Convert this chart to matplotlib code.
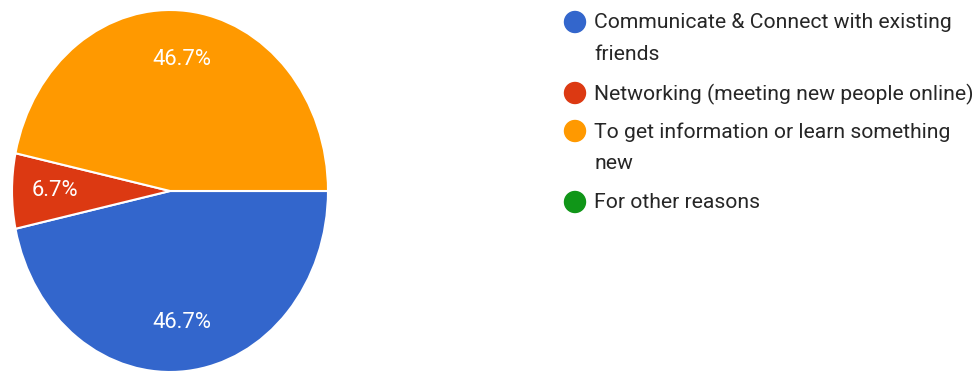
"""Pie chart of reasons for using social media, with a side legend."""

import matplotlib.pyplot as plt
import matplotlib.patches as mpatches

labels = [
    "Communicate & Connect with existing\nfriends",
    "Networking (meeting new people online)",
    "To get information or learn something\nnew",
    "For other reasons",
]
shares = [46.7, 6.7, 46.7, 0.0]
colors = ["#3366cc", "#dc3912", "#ff9900", "#109618"]

W, H = 977, 372
fig = plt.figure(figsize=(W / 100, H / 100), dpi=100)
plt.rcParams["font.family"] = ["Roboto", "DejaVu Sans"]

# pie placed in pixel space: centre (170, 191), radii 158 x 181 (slightly oval)
cx, cy, rx, ry = 170, 191, 158, 181
ax = fig.add_axes([(cx - rx) / W, (H - cy - ry) / H, 2 * rx / W, 2 * ry / H])
wedges, texts, autotexts = ax.pie(
    [s for s in shares if s > 0],
    colors=[c for s, c in zip(shares, colors) if s > 0],
    startangle=0,
    counterclock=False,
    autopct="%.1f%%",
    pctdistance=0.73,
    wedgeprops=dict(edgecolor="white", linewidth=1.5),
    textprops=dict(color="white", fontsize=15.8),
)
ax.set_aspect("auto")
ax.set_xlim(-1, 1)
ax.set_ylim(-1, 1)

# legend drawn by hand to match the wrapped entries
lax = fig.add_axes([0, 0, 1, 1])
lax.set_xlim(0, W)
lax.set_ylim(H, 0)
lax.axis("off")
lax.set_aspect("auto")
rows = [22, 93, 131, 202]
for lab, col, y in zip(labels, colors, rows):
    lax.add_patch(mpatches.Ellipse((575, y), 21, 21, color=col))
    lax.text(594, y - 9, lab, fontsize=15.2, color="#262626",
             va="top", ha="left", linespacing=1.85)

fig.savefig("out.png", dpi=100, facecolor="white")
